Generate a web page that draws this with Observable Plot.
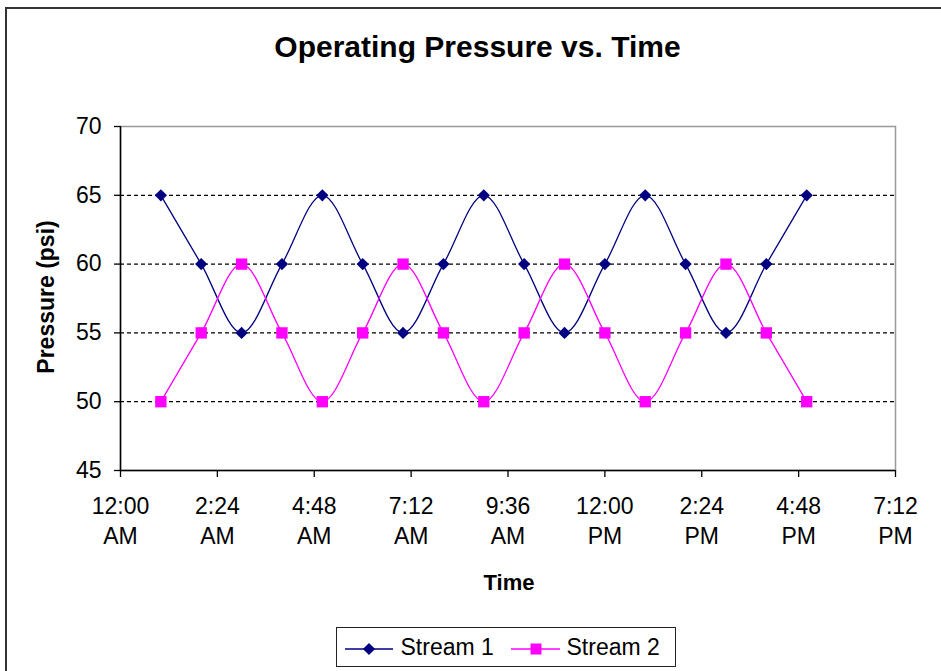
<!DOCTYPE html>
<html>
<head>
<meta charset="utf-8">
<script src="https://cdn.jsdelivr.net/npm/d3@7"></script>
<script src="https://cdn.jsdelivr.net/npm/@observablehq/plot@0.6"></script>
<style>
  html, body { margin: 0; padding: 0; background: #fff; }
  body { width: 941px; height: 671px; position: relative; overflow: hidden; font-family: "Liberation Sans", Arial, sans-serif; }
  .abs { position: absolute; white-space: nowrap; }
  #frame { position: absolute; left: 5px; top: 7px; width: 1000px; height: 700px; border: 2px solid #333; box-sizing: border-box; }
  #title { left: 0; width: 955px; text-align: center; top: 32px; font-size: 30px; line-height: 30px; font-weight: bold; color: #000; }
  #xlabel { left: 409px; width: 200px; text-align: center; top: 572px; font-size: 22px; line-height: 22px; font-weight: bold; }
  #ylabel { left: 46px; top: 297px; font-size: 23px; line-height: 23px; font-weight: bold; transform: translate(-50%, -50%) rotate(-90deg); }
  #chart { position: absolute; left: 0; top: 0; }
  #legend { position: absolute; left: 336px; top: 627px; width: 340px; height: 40px; border: 1.5px solid #222; box-sizing: border-box; background: #fff; }
  #legend span { position: absolute; top: 8px; font-size: 23px; line-height: 23px; }
</style>
</head>
<body>
<div id="frame"></div>
<div id="chart"></div>
<div id="title" class="abs">Operating Pressure vs. Time</div>
<div id="xlabel" class="abs">Time</div>
<div id="ylabel" class="abs">Pressure (psi)</div>
<div id="legend"></div>
<script>
// ---- data ----
const times = ["1:00 AM","2:00 AM","3:00 AM","4:00 AM","5:00 AM","6:00 AM","7:00 AM","8:00 AM","9:00 AM",
               "10:00 AM","11:00 AM","12:00 PM","1:00 PM","2:00 PM","3:00 PM","4:00 PM","5:00 PM"];
const stream1 = [65,60,55,60,65,60,55,60,65,60,55,60,65,60,55,60,65];
const stream2 = [50,55,60,55,50,55,60,55,50,55,60,55,50,55,60,55,50];
const seriesNames = ["Stream 1", "Stream 2"];
const seriesColors = ["#000080", "#FF00FF"];
const xTickTimes = ["12:00 AM","2:24 AM","4:48 AM","7:12 AM","9:36 AM","12:00 PM","2:24 PM","4:48 PM","7:12 PM"];
const xTickLabels = ["12:00\nAM","2:24\nAM","4:48\nAM","7:12\nAM","9:36\nAM","12:00\nPM","2:24\nPM","4:48\nPM","7:12\nPM"];
const yTicks = [45, 50, 55, 60, 65, 70];
const yGrid = [50, 55, 60, 65];

function toHours(s) {
  const [hm, ap] = s.split(" ");
  let [h, m] = hm.split(":").map(Number);
  if (h === 12) h = 0;
  if (ap === "PM") h += 12;
  return h + m / 60;
}
const xTickVals = xTickTimes.map(toHours);

const data1 = times.map((t, i) => ({x: toHours(t), y: stream1[i]}));
const data2 = times.map((t, i) => ({x: toHours(t), y: stream2[i]}));

const font = "Liberation Sans, Arial, sans-serif";

const plot = Plot.plot({
  width: 941,
  height: 671,
  marginLeft: 120,
  marginRight: 46,
  marginTop: 126,
  marginBottom: 201,
  style: {background: "transparent", fontFamily: font, fontSize: "23px", color: "#000", overflow: "visible"},
  x: {domain: [xTickVals[0], xTickVals[xTickVals.length - 1]]},
  y: {domain: [45, 70]},
  marks: [
    Plot.frame({stroke: "#999", strokeWidth: 1.5}),
    Plot.ruleY(yGrid, {stroke: "#000", strokeWidth: 1.2, strokeDasharray: "4,3"}),
    Plot.axisY({ticks: yTicks, tickSize: 6, tickPadding: 13, fontSize: 23, label: null, stroke: "#000", strokeWidth: 1.3, fill: "#000"}),
    Plot.axisX({ticks: xTickVals, tickFormat: (d, i) => xTickLabels[i], tickSize: 7, tickPadding: 14.5, lineHeight: 1.33, fontSize: 23, label: null, stroke: "#000", strokeWidth: 1.3, fill: "#000"}),
    Plot.ruleX([xTickVals[0]], {stroke: "#000", strokeWidth: 1.5}),
    Plot.ruleY([45], {stroke: "#000", strokeWidth: 1.5}),
    Plot.line(data1, {x: "x", y: "y", stroke: seriesColors[0], strokeWidth: 1.3, curve: "cardinal"}),
    Plot.line(data2, {x: "x", y: "y", stroke: seriesColors[1], strokeWidth: 1.3, curve: "cardinal"}),
    Plot.dot(data1, {x: "x", y: "y", symbol: "square", rotate: 45, r: 4.9, fill: seriesColors[0], stroke: "none"}),
    Plot.dot(data2, {x: "x", y: "y", symbol: "square", r: 6.4, fill: seriesColors[1], stroke: "none"})
  ]
});
document.getElementById("chart").appendChild(plot);

// ---- legend ----
const legend = document.getElementById("legend");
const ns = "http://www.w3.org/2000/svg";
const lsvg = document.createElementNS(ns, "svg");
lsvg.setAttribute("width", 340); lsvg.setAttribute("height", 40);
lsvg.style.position = "absolute"; lsvg.style.left = "-1.5px"; lsvg.style.top = "-1.5px";
const samples = [{x0: 9, x1: 57, cx: 33, tx: 65}, {x0: 175, x1: 224, cx: 200, tx: 231}];
samples.forEach((s, i) => {
  const ln = document.createElementNS(ns, "line");
  ln.setAttribute("x1", s.x0); ln.setAttribute("x2", s.x1);
  ln.setAttribute("y1", 22); ln.setAttribute("y2", 22);
  ln.setAttribute("stroke", seriesColors[i]); ln.setAttribute("stroke-width", 1.3);
  lsvg.appendChild(ln);
  const r = document.createElementNS(ns, "rect");
  const side = i === 0 ? 8.6 : 11;
  r.setAttribute("x", s.cx - side / 2); r.setAttribute("y", 22 - side / 2);
  r.setAttribute("width", side); r.setAttribute("height", side);
  r.setAttribute("fill", seriesColors[i]);
  if (i === 0) r.setAttribute("transform", `rotate(45 ${s.cx} 22)`);
  lsvg.appendChild(r);
  const sp = document.createElement("span");
  sp.textContent = seriesNames[i];
  sp.style.left = (s.tx - 1.5) + "px";
  legend.appendChild(sp);
});
legend.appendChild(lsvg);
</script>
</body>
</html>
